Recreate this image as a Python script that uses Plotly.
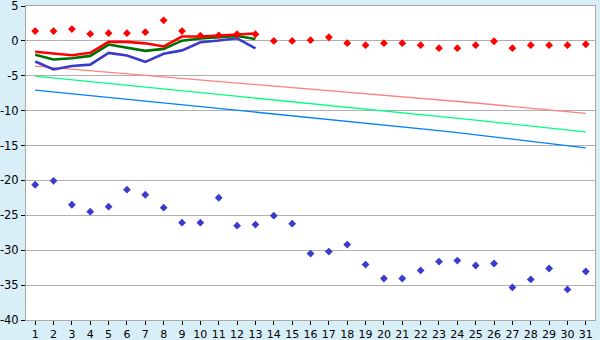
import plotly.graph_objects as go

days = list(range(1, 32))

# thick lines (days 1-13)
red_line = [-1.55, -1.76, -2.05, -1.7, -0.14, -0.14, -0.35, -0.8, 0.62, 0.62, 0.76, 0.95, 1.05]
green_line = [-2.0, -2.67, -2.48, -2.15, -0.52, -0.95, -1.43, -1.15, 0.03, 0.35, 0.5, 0.7, 0.27]
blue_line = [-2.95, -4.1, -3.6, -3.4, -1.72, -2.1, -3.0, -1.85, -1.36, -0.2, 0.05, 0.38, -1.08]

# thin trend lines (days 1-31)
pink_thin = [-3.62, -3.84, -4.06, -4.28, -4.5, -4.72, -4.94, -5.16, -5.38, -5.6, -5.82,
             -6.03, -6.24, -6.45, -6.66, -6.87, -7.08, -7.29, -7.5, -7.71, -7.92,
             -8.17, -8.41, -8.66, -8.9, -9.15, -9.4, -9.64, -9.89, -10.13, -10.38]
green_thin = [-5.05, -5.31, -5.57, -5.83, -6.09, -6.35, -6.61, -6.87, -7.13, -7.39, -7.65,
              -7.91, -8.16, -8.42, -8.68, -8.94, -9.2, -9.46, -9.72, -9.97, -10.23,
              -10.51, -10.79, -11.08, -11.36, -11.64, -11.92, -12.2, -12.49, -12.77, -13.05]
blue_thin = [-7.05, -7.31, -7.57, -7.83, -8.09, -8.35, -8.61, -8.87, -9.13, -9.39, -9.65,
             -9.91, -10.17, -10.42, -10.68, -10.94, -11.2, -11.46, -11.71, -11.97, -12.23,
             -12.54, -12.85, -13.16, -13.47, -13.78, -14.09, -14.4, -14.71, -15.02, -15.33]

# point series
red_points = [1.4, 1.4, 1.7, 1.0, 1.1, 1.1, 1.25, 2.95, 1.4, 0.75, 0.8, 0.95, 0.95, 0.0, 0.0,
              0.1, 0.52, -0.33, -0.62, -0.33, -0.33, -0.62, -1.05, -1.05, -0.62, -0.05,
              -1.05, -0.62, -0.62, -0.62, -0.48]
blue_points = [-20.62, -20.05, -23.48, -24.48, -23.76, -21.33, -22.05, -23.9, -26.05, -26.05,
               -22.48, -26.48, -26.33, -25.05, -26.19, -30.48, -30.19, -29.19, -32.05, -34.05,
               -34.05, -32.9, -31.62, -31.48, -32.19, -31.9, -35.33, -34.19, -32.62, -35.62,
               -33.05]

y_ticks = [5, 0, -5, -10, -15, -20, -25, -30, -35, -40]
y_tick_text = [str(v) for v in y_ticks]

fig = go.Figure()

fig.add_trace(go.Scatter(x=days, y=pink_thin, mode="lines",
                         line=dict(color="#ff8080", width=1.3)))
fig.add_trace(go.Scatter(x=days, y=green_thin, mode="lines",
                         line=dict(color="#00ff80", width=1.3)))
fig.add_trace(go.Scatter(x=days, y=blue_thin, mode="lines",
                         line=dict(color="#0080ff", width=1.3)))

fig.add_trace(go.Scatter(x=days[:13], y=blue_line, mode="lines",
                         line=dict(color="#3a3acc", width=2.6)))
fig.add_trace(go.Scatter(x=days[:13], y=green_line, mode="lines",
                         line=dict(color="#007000", width=2.6)))
fig.add_trace(go.Scatter(x=days[:13], y=red_line, mode="lines",
                         line=dict(color="#ff0000", width=2.6)))

fig.add_trace(go.Scatter(x=days, y=red_points, mode="markers",
                         marker=dict(symbol="diamond", size=6, color="#ff0000")))
fig.add_trace(go.Scatter(x=days, y=blue_points, mode="markers",
                         marker=dict(symbol="diamond", size=6, color="#3a3acc")))

fig.update_layout(
    width=600, height=340,
    margin=dict(l=26, r=5, t=6, b=20, autoexpand=False),
    paper_bgcolor="#d9eff7",
    plot_bgcolor="#ffffff",
    showlegend=False,
    font=dict(family="DejaVu Sans", size=11, color="#000000"),
)
fig.update_xaxes(
    range=[0.5, 31.5], tickmode="array", tickvals=days,
    ticktext=[str(d) for d in days], automargin=False,
    showgrid=False, zeroline=False,
    showline=True, linecolor="#a8a8a8", linewidth=1, mirror=True,
    ticks="outside", ticklen=4, tickcolor="#000000", tickwidth=1,
    tickfont=dict(size=11), ticklabeloverflow="allow",
)
fig.update_yaxes(
    range=[-40, 5], tickmode="array", tickvals=y_ticks, ticktext=y_tick_text,
    automargin=False, ticklabeloverflow="allow",
    showgrid=True, gridcolor="#b0b0b0", gridwidth=1, zeroline=False,
    showline=True, linecolor="#a8a8a8", linewidth=1, mirror=True,
    ticks="outside", ticklen=4, tickcolor="#000000", tickwidth=1,
    tickfont=dict(size=11.5),
)

fig.write_html("out.html")
